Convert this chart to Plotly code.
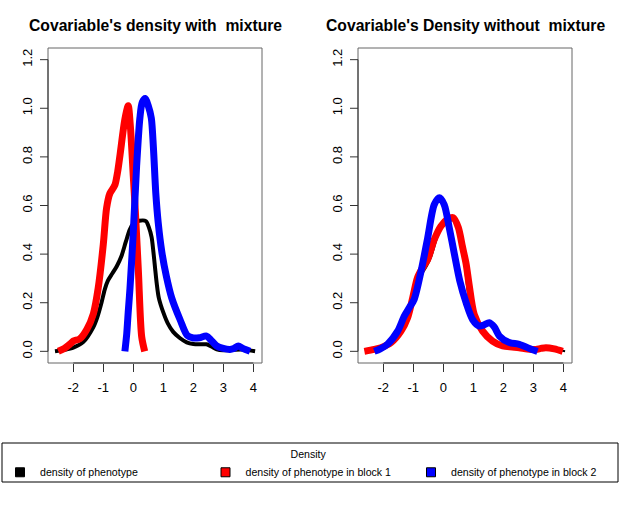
import plotly.graph_objects as go

# ---------------- data ----------------
black_x = [-2.61, -2.3, -2.0, -1.67, -1.33, -1.2, -1.06, -0.95, -0.85, -0.7, -0.55, -0.4, -0.25,
           -0.12, 0.0, 0.2, 0.42, 0.52, 0.61, 0.67, 0.72, 0.78, 0.85, 1.0, 1.15, 1.33, 1.55, 1.78,
           2.0, 2.25, 2.44, 2.6, 2.78, 3.0, 3.3, 3.6, 3.85, 4.06]
black_y = [0.0, 0.006, 0.015, 0.038, 0.1, 0.14, 0.2, 0.255, 0.29, 0.32, 0.35, 0.39, 0.45,
           0.5, 0.525, 0.537, 0.536, 0.51, 0.47, 0.41, 0.35, 0.28, 0.22, 0.16, 0.115, 0.08,
           0.055, 0.037, 0.03, 0.029, 0.029, 0.02, 0.008, 0.004, 0.006, 0.008, 0.004, 0.0]

red_mix_x = [-2.5, -2.3, -2.11, -2.0, -1.78, -1.55, -1.33, -1.17, -1.0, -0.89, -0.78, -0.68, -0.61,
             -0.52, -0.44, -0.28, -0.17, -0.1, 0.0, 0.08, 0.17, 0.28, 0.38]
red_mix_y = [0.0, 0.012, 0.03, 0.042, 0.052, 0.09, 0.155, 0.26, 0.44, 0.59, 0.65, 0.67, 0.685,
             0.74, 0.81, 0.955, 1.01, 0.93, 0.72, 0.55, 0.33, 0.06, 0.0]

blue_mix_x = [-0.28, -0.22, -0.17, -0.11, 0.0, 0.11, 0.22, 0.3, 0.4, 0.5, 0.6, 0.67, 0.75, 0.83,
              0.95, 1.1, 1.28, 1.56, 1.8, 2.0, 2.2, 2.44, 2.6, 2.78, 3.0, 3.22, 3.35, 3.5, 3.65, 3.89]
blue_mix_y = [0.0, 0.07, 0.16, 0.26, 0.49, 0.76, 0.96, 1.025, 1.04, 1.01, 0.96, 0.84, 0.65, 0.53,
              0.41, 0.31, 0.22, 0.13, 0.065, 0.055, 0.056, 0.063, 0.045, 0.022, 0.012, 0.008,
              0.012, 0.022, 0.012, 0.0]

red_nomix_x = [-2.63, -2.3, -2.08, -1.74, -1.41, -1.19, -1.02, -0.86, -0.69, -0.52, -0.3, -0.08,
               0.14, 0.33, 0.5, 0.64, 0.76, 0.86, 1.03, 1.31, 1.64, 1.98, 2.3, 2.53, 2.8, 3.09,
               3.25, 3.42, 3.7, 3.98]
red_nomix_y = [0.0, 0.008, 0.015, 0.036, 0.083, 0.138, 0.22, 0.303, 0.344, 0.378, 0.46, 0.515,
               0.543, 0.55, 0.51, 0.43, 0.36, 0.275, 0.152, 0.083, 0.042, 0.022, 0.018, 0.015,
               0.01, 0.008, 0.012, 0.015, 0.01, 0.0]

blue_nomix_x = [-2.3, -2.1, -1.86, -1.52, -1.3, -1.13, -0.97, -0.74, -0.52, -0.3, -0.13, 0.03, 0.2,
                0.37, 0.55, 0.76, 0.98, 1.2, 1.35, 1.53, 1.7, 1.87, 2.2, 2.53, 2.87, 3.14]
blue_nomix_y = [0.0, 0.01, 0.029, 0.083, 0.145, 0.18, 0.214, 0.33, 0.467, 0.604, 0.632, 0.604,
                0.508, 0.4, 0.29, 0.2, 0.13, 0.104, 0.108, 0.118, 0.1, 0.063, 0.036, 0.029,
                0.012, 0.0]

x_ticks = [-2, -1, 0, 1, 2, 3, 4]
y_ticks = [0.0, 0.2, 0.4, 0.6, 0.8, 1.0, 1.2]
titles = ["Covariable's density with  mixture", "Covariable's Density without  mixture"]
legend_names = ["density of phenotype", "density of phenotype in block 1",
                "density of phenotype in block 2"]
legend_title = "Density"

# ---------------- styling ----------------
FONT = "Liberation Sans, Arial, Helvetica, sans-serif"
W, H = 620, 515
BLACK, RED, BLUE = "#000000", "#FF0000", "#0000FF"
X_RANGE = [-2.843, 4.29]
Y_RANGE = [-0.048, 1.248]
PANEL_W = 214.0
TICK_LEN = 8.0

def px_x(p):
    return p / W

def px_y(p):
    return (H - p) / H

fig = go.Figure()

def curve(x, y, color, width, xa, ya):
    fig.add_trace(go.Scatter(x=x, y=y, mode="lines",
                             line=dict(color=color, width=width, shape="spline", smoothing=0.8),
                             xaxis=xa, yaxis=ya, showlegend=False, hoverinfo="skip"))

# left panel
curve(black_x, black_y, BLACK, 4, "x", "y")
curve(red_mix_x, red_mix_y, RED, 7, "x", "y")
curve(blue_mix_x, blue_mix_y, BLUE, 7, "x", "y")
# right panel
curve(black_x, black_y, BLACK, 2, "x2", "y2")
curve(red_nomix_x, red_nomix_y, RED, 7, "x2", "y2")
curve(blue_nomix_x, blue_nomix_y, BLUE, 7, "x2", "y2")

# legend-only entries
for name, col in zip(legend_names, [BLACK, RED, BLUE]):
    fig.add_trace(go.Scatter(x=[None], y=[None], mode="markers", name=name,
                             marker=dict(symbol="square", size=9, color=col,
                                         line=dict(color="black", width=1))))

dom_left = [px_x(48), px_x(262)]
dom_right = [px_x(358), px_x(572)]
dom_y = [px_y(363), px_y(48)]

def xaxis(domain, anchor):
    return dict(domain=domain, anchor=anchor, range=X_RANGE, tickmode="array", tickvals=x_ticks,
                ticktext=[str(v) for v in x_ticks], ticks="outside", ticklen=8, tickcolor="#333333",
                tickwidth=1, showline=False, showgrid=False, zeroline=False, ticklabelstandoff=4,
                tickfont=dict(family=FONT, size=13, color="black"), fixedrange=True, automargin=False)

def yaxis(anchor):
    return dict(domain=dom_y, anchor=anchor, range=Y_RANGE, tickmode="array", tickvals=y_ticks,
                ticktext=[f"{v:.1f}" for v in y_ticks], ticks="", tickangle=-90,
                ticklabelstandoff=12,
                showline=False, showgrid=False, zeroline=False,
                tickfont=dict(family=FONT, size=13, color="black"),
                fixedrange=True, automargin=False)

shapes = []
for xr, yr, xd in [("x", "y", "x domain"), ("x2", "y2", "x2 domain")]:
    ydm = yr + " domain"
    shapes.append(dict(type="rect", xref=xd, yref=ydm, x0=0, x1=1, y0=0, y1=1,
                       line=dict(color="#666666", width=1), layer="below"))
    shapes.append(dict(type="line", xref=xr, yref=ydm, x0=x_ticks[0], x1=x_ticks[-1], y0=0, y1=0,
                       line=dict(color="#333333", width=1)))
    shapes.append(dict(type="line", xref=xd, yref=yr, x0=0, x1=0, y0=y_ticks[0], y1=y_ticks[-1],
                       line=dict(color="#333333", width=1)))
    # y tick marks (outside, R style)
    for v in y_ticks:
        shapes.append(dict(type="line", xref=xd, yref=yr, x0=-TICK_LEN / PANEL_W, x1=0, y0=v, y1=v,
                           line=dict(color="#333333", width=1)))
# legend frame
shapes.append(dict(type="rect", xref="paper", yref="paper", x0=px_x(2), x1=px_x(618),
                   y0=px_y(482), y1=px_y(443), line=dict(color="black", width=1)))

annotations = []
for t, dom in zip(titles, [dom_left, dom_right]):
    annotations.append(dict(text=f"<b>{t}</b>", xref="paper", yref="paper", x=(dom[0] + dom[1]) / 2,
                            y=px_y(26), xanchor="center", yanchor="middle", showarrow=False,
                            font=dict(family=FONT, size=15.7, color="black")))

fig.update_layout(
    width=W, height=H, margin=dict(l=0, r=0, t=0, b=0, autoexpand=False),
    paper_bgcolor="white", plot_bgcolor="white",
    xaxis=xaxis(dom_left, "y"), yaxis=yaxis("x"),
    xaxis2=xaxis(dom_right, "y2"), yaxis2=yaxis("x2"),
    shapes=shapes, annotations=annotations,
    showlegend=True,
    legend=dict(orientation="h", x=0, y=px_y(444), xanchor="left", yanchor="top",
                entrywidth=160.5, entrywidthmode="pixels", bgcolor="rgba(0,0,0,0)", borderwidth=0,
                font=dict(family=FONT, size=10.6, color="black"),
                title=dict(text=legend_title, side="top center",
                           font=dict(family=FONT, size=10.6, color="black"))),
)

fig.write_html("out.html")
